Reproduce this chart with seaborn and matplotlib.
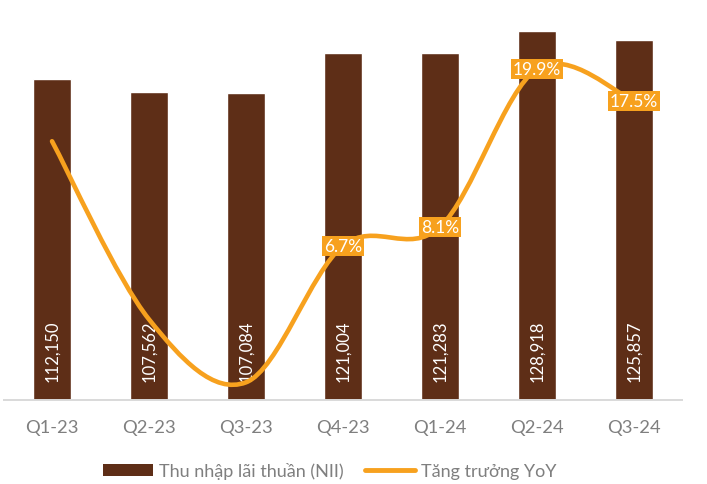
import numpy as np
import pandas as pd
import matplotlib
matplotlib.use("Agg")
import matplotlib.pyplot as plt
import seaborn as sns
from matplotlib.path import Path
from matplotlib.patches import PathPatch, Patch
from matplotlib.lines import Line2D

quarters = ["Q1-23", "Q2-23", "Q3-23", "Q4-23", "Q1-24", "Q2-24", "Q3-24"]
nii = [112150, 107562, 107084, 121004, 121283, 128918, 125857]
yoy = [14.5, 1.2, -3.5, 6.7, 8.1, 19.9, 17.5]
yoy_labels = ["", "", "", "6.7%", "8.1%", "19.9%", "17.5%"]
legend_labels = ["Thu nhập lãi thuần (NII)", "Tăng trưởng YoY"]

BROWN = "#5E2E17"
ORANGE = "#F7A11E"
GREY = "#7F7F7F"

sns.set_theme(style="white")
plt.rcParams["font.family"] = ["Lato", "DejaVu Sans"]

fig = plt.figure(figsize=(7.07, 4.85), dpi=100)
ax = fig.add_axes([0.005, 0.1732, 0.9603, 0.8268])

df = pd.DataFrame({"q": quarters, "nii": nii})
sns.barplot(data=df, x="q", y="nii", color=BROWN, saturation=1, width=0.385, ax=ax)
ax.set_ylim(0, 140000)
ax.set_xlim(-0.5, len(quarters) - 0.5)
ax.set_xlabel("")
ax.set_ylabel("")
ax.set_yticks([])
for s in ["top", "left", "right"]:
    ax.spines[s].set_visible(False)
ax.spines["bottom"].set_color("#D9D9D9")
ax.spines["bottom"].set_linewidth(1.4)
ax.tick_params(axis="x", length=0, pad=14, labelsize=13.2, labelcolor=GREY)

for i, v in enumerate(nii):
    ax.annotate(f"{v:,}", xy=(i, 0), xytext=(0, 13.5), textcoords="offset points",
                rotation=90, ha="center", va="bottom", color="white", fontsize=12)

ax2 = ax.twinx()
ax2.set_ylim(-4.82, 25.12)
ax2.set_yticks([])
for s in ax2.spines.values():
    s.set_visible(False)

# smoothed line (Catmull-Rom as cubic Bezier)
pts = np.column_stack([np.arange(len(yoy)), np.array(yoy, dtype=float)])
verts = [tuple(pts[0])]
codes = [Path.MOVETO]
n = len(pts)
for i in range(n - 1):
    p0 = pts[max(i - 1, 0)]
    p1 = pts[i]
    p2 = pts[i + 1]
    p3 = pts[min(i + 2, n - 1)]
    c1 = p1 + (p2 - p0) / 6.0
    c2 = p2 - (p3 - p1) / 6.0
    verts += [tuple(c1), tuple(c2), tuple(p2)]
    codes += [Path.CURVE4] * 3
patch = PathPatch(Path(verts, codes), fill=False, edgecolor=ORANGE, lw=3.3,
                  capstyle="round", joinstyle="round", zorder=3)
ax2.add_patch(patch)

for i, (v, lbl) in enumerate(zip(yoy, yoy_labels)):
    if lbl:
        ax2.text(i, v, lbl, ha="center", va="center", color="white", fontsize=12.5, zorder=4,
                 bbox=dict(boxstyle="square,pad=0.12", fc=ORANGE, ec="none"))

handles = [Patch(facecolor=BROWN, edgecolor="none"),
           Line2D([], [], color=ORANGE, lw=3.5, solid_capstyle="round")]
fig.legend(handles, legend_labels, loc="center", bbox_to_anchor=(0.466, 0.027), ncol=2,
           frameon=False, fontsize=13, labelcolor=GREY, handlelength=2.8, handleheight=0.6,
           handletextpad=0.3, columnspacing=1.2)

fig.savefig("out.png", dpi=100)
